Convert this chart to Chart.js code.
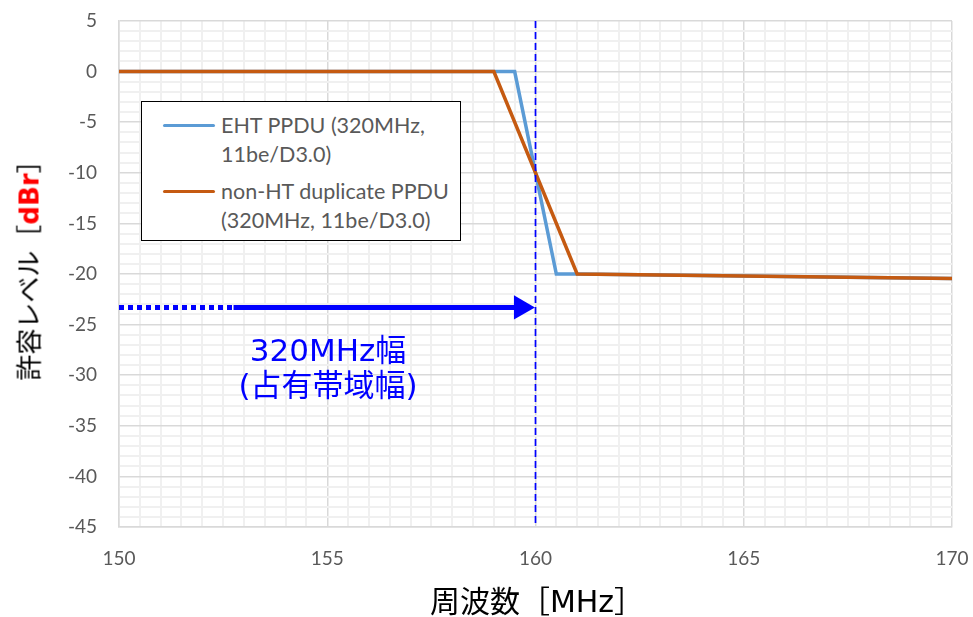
<!DOCTYPE html>
<html>
<head>
<meta charset="utf-8">
<script src="https://cdn.jsdelivr.net/npm/chart.js@4.4.1/dist/chart.umd.min.js"></script>
<style>
  html, body { margin: 0; padding: 0; background: #fff; }
  #wrap { position: relative; width: 973px; height: 617px; }
  #chart { position: absolute; left: 0; top: 0; }
  .jp { font-family: "DejaVu Sans", "Noto Sans CJK JP", sans-serif; position: absolute; white-space: nowrap; }
  #xTitle { left: 537px; top: 599px; transform: translate(-50%, -50%); font-size: 30px; color: #000; }
  #yTitle { left: 27px; top: 264px; transform: translate(-50%, -50%) rotate(-90deg); font-size: 26px; color: #000; }
  #yTitle b { color: #ff0000; }
  #bwNote { left: 328px; top: 368px; transform: translate(-50%, -50%); font-size: 31px; color: #0000ff; text-align: center; line-height: 35px; }
  #legend { position: absolute; left: 141px; top: 101px; width: 318px; height: 138px; border: 1.5px solid #000; background: #fff;
    font-family: Lato, sans-serif; font-size: 21.5px; color: #595959; }
  .item { position: absolute; left: 79px; line-height: 29px; }
  .swatch { position: absolute; left: 21px; width: 52px; height: 3px; border-radius: 2px; }
</style>
</head>
<body>
<div id="wrap">
  <canvas id="chart" width="973" height="617"></canvas>
  <div id="legend"></div>
  <div id="bwNote" class="jp">320MHz幅<br>(占有帯域幅)</div>
  <div id="xTitle" class="jp">周波数［MHz］</div>
  <div id="yTitle" class="jp">許容レベル［<b>dBr</b>］</div>
</div>
<script>
// spectrum masks
const ehtFreq = [150, 159.5, 160.5, 161, 170];
const ehtLevel = [0, 0, -20, -20, -20.45];
const nonHtFreq = [150, 159, 161, 170];
const nonHtLevel = [0, 0, -20, -20.45];

const seriesNames = ['EHT PPDU (320MHz,\n11be/D3.0)', 'non-HT duplicate PPDU\n(320MHz, 11be/D3.0)'];
const seriesColors = ['#5b9bd5', '#c55a11'];

// 320 MHz bandwidth marker
const edgeFreq = 160;
const arrowLevel = -23.3;
const arrowDotEnd = 152.75;
const arrowHeadAt = 159.65;

const xTicks = [150, 155, 160, 165, 170];
const yTicks = [5, 0, -5, -10, -15, -20, -25, -30, -35, -40, -45];

function pts(xs, ys) {
  return xs.map((x, i) => ({ x: x, y: ys[i] }));
}

function isMajor(v) {
  return Math.abs(v / 5 - Math.round(v / 5)) < 1e-6;
}

document.addEventListener('DOMContentLoaded', () => {
  buildLegend();
  renderChart();
});

function buildLegend() {
  const box = document.getElementById('legend');
  const tops = [9, 75];
  seriesNames.forEach((name, i) => {
    const sw = document.createElement('div');
    sw.className = 'swatch';
    sw.style.background = seriesColors[i];
    sw.style.top = (tops[i] + 13) + 'px';
    box.appendChild(sw);
    const t = document.createElement('div');
    t.className = 'item';
    t.style.top = tops[i] + 'px';
    t.innerHTML = name.replace('\n', '<br>');
    box.appendChild(t);
  });
}

function renderChart() {
  const ctx = document.getElementById('chart');

  new Chart(ctx, {
    type: 'line',
    data: {
      datasets: [
        {
          data: pts(nonHtFreq, nonHtLevel),
          borderColor: seriesColors[1],
          borderWidth: 3.5,
          pointRadius: 0,
          order: 1
        },
        {
          data: pts(ehtFreq, ehtLevel),
          borderColor: seriesColors[0],
          borderWidth: 3.5,
          pointRadius: 0,
          order: 2
        },
        {
          data: [{ x: edgeFreq, y: yTicks[0] }, { x: edgeFreq, y: yTicks[yTicks.length - 1] }],
          borderColor: '#0000ff',
          borderWidth: 1.7,
          borderDash: [7, 4],
          pointRadius: 0,
          order: 0
        },
        {
          data: [{ x: xTicks[0], y: arrowLevel }, { x: arrowDotEnd, y: arrowLevel }],
          borderColor: '#0000ff',
          borderWidth: 5,
          borderDash: [5, 4],
          borderCapStyle: 'butt',
          pointRadius: 0,
          order: 0
        },
        {
          data: [{ x: arrowDotEnd, y: arrowLevel }, { x: arrowHeadAt, y: arrowLevel }],
          borderColor: '#0000ff',
          backgroundColor: '#0000ff',
          borderWidth: 5,
          pointStyle: 'triangle',
          pointRotation: 90,
          pointRadius: [0, 14],
          pointBorderWidth: 0,
          order: 0
        }
      ]
    },
    options: {
      responsive: false,
      animation: false,
      layout: { autoPadding: false, padding: { top: 21, right: 21, left: 0, bottom: 0 } },
      plugins: {
        legend: { display: false },
        tooltip: { enabled: false }
      },
      scales: {
        x: {
          type: 'linear',
          min: xTicks[0],
          max: xTicks[xTicks.length - 1],
          afterFit: (s) => {
            s.height = 90;
            s.paddingLeft = 0;
            s.paddingRight = 0;
          },
          border: { color: '#d9d9d9', width: 1.5 },
          grid: {
            drawTicks: false,
            color: (c) => isMajor(c.tick.value) ? '#d9d9d9' : '#f0f0f0',
            lineWidth: (c) => isMajor(c.tick.value) ? 1.5 : 2
          },
          ticks: {
            stepSize: 0.5,
            autoSkip: false,
            maxRotation: 0,
            padding: 20,
            color: '#595959',
            font: { family: 'Lato', size: 19 },
            callback: (v) => xTicks.includes(v) ? String(v) : ''
          }
        },
        y: {
          type: 'linear',
          min: yTicks[yTicks.length - 1],
          max: yTicks[0],
          afterFit: (s) => {
            s.width = 119;
            s.paddingTop = 0;
            s.paddingBottom = 0;
          },
          border: { color: '#d9d9d9', width: 1.5 },
          grid: {
            drawTicks: false,
            color: (c) => isMajor(c.tick.value) ? '#d9d9d9' : '#f0f0f0',
            lineWidth: (c) => isMajor(c.tick.value) ? 1.5 : 2
          },
          ticks: {
            stepSize: 1,
            autoSkip: false,
            padding: 22,
            color: '#595959',
            font: { family: 'Lato', size: 19 },
            callback: (v) => yTicks.includes(v) ? String(v) : ''
          }
        }
      }
    }
  });
}
</script>
</body>
</html>
